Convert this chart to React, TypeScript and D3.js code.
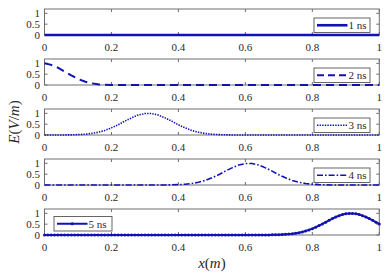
import React from "react";
import * as d3 from "d3";

const xTicks = [0, 0.2, 0.4, 0.6, 0.8, 1];
const xTickLabels = ["0", "0.2", "0.4", "0.6", "0.8", "1"];
const yTicks = [0, 0.5, 1];
const yTickLabels = ["0", "0.5", "1"];
const seriesNames = ["1 ns", "2 ns", "3 ns", "4 ns", "5 ns"];

// x sampling of the first four traces (step 0.02) and of the 5 ns trace (step 0.01)
const xCoarse = d3.range(51).map((i) => i / 50);
const xFine = d3.range(101).map((i) => i / 100);

const e1ns = [
  0, 0, 0, 0, 0, 0, 0, 0, 0, 0, 0, 0, 0, 0, 0, 0, 0, 0, 0, 0, 0, 0, 0, 0, 0, 0,
  0, 0, 0, 0, 0, 0, 0, 0, 0, 0, 0, 0, 0, 0, 0, 0, 0, 0, 0, 0, 0, 0, 0, 0, 0,
];
const e2ns = [
  1.0, 0.93, 0.8, 0.62, 0.44, 0.28, 0.16, 0.08, 0.03, 0.01, 0, 0, 0, 0, 0, 0, 0,
  0, 0, 0, 0, 0, 0, 0, 0, 0, 0, 0, 0, 0, 0, 0, 0, 0, 0, 0, 0, 0, 0, 0, 0, 0, 0,
  0, 0, 0, 0, 0, 0, 0, 0,
];
const e3ns = [
  0, 0, 0, 0.003, 0.008, 0.017, 0.035, 0.069, 0.125, 0.21, 0.33, 0.47, 0.64,
  0.79, 0.92, 0.99, 0.99, 0.92, 0.79, 0.64, 0.47, 0.33, 0.21, 0.125, 0.069,
  0.035, 0.017, 0.008, 0.003, 0, 0, 0, 0, 0, 0, 0, 0, 0, 0, 0, 0, 0, 0, 0, 0, 0,
  0, 0, 0, 0, 0,
];
const e4ns = [
  0, 0, 0, 0, 0, 0, 0, 0, 0, 0, 0, 0, 0, 0, 0, 0, 0, 0, 0.003, 0.008, 0.017,
  0.035, 0.069, 0.125, 0.21, 0.33, 0.47, 0.64, 0.79, 0.92, 0.99, 0.99, 0.92,
  0.79, 0.64, 0.47, 0.33, 0.21, 0.125, 0.069, 0.035, 0.017, 0.008, 0.003, 0, 0,
  0, 0, 0, 0, 0,
];
const e5ns = [
  0, 0, 0, 0, 0, 0, 0, 0, 0, 0, 0, 0, 0, 0, 0, 0, 0, 0, 0, 0, 0, 0, 0, 0, 0, 0,
  0, 0, 0, 0, 0, 0, 0, 0, 0, 0, 0, 0, 0, 0, 0, 0, 0, 0, 0, 0, 0, 0, 0, 0, 0, 0,
  0, 0, 0, 0, 0, 0, 0, 0, 0, 0, 0, 0, 0, 0, 0.002, 0.004, 0.006, 0.009, 0.014,
  0.021, 0.03, 0.042, 0.059, 0.081, 0.108, 0.143, 0.185, 0.236, 0.294, 0.361,
  0.434, 0.513, 0.594, 0.677, 0.756, 0.829, 0.893, 0.944, 0.979, 0.998, 0.998,
  0.979, 0.944, 0.893, 0.829, 0.756, 0.677, 0.594, 0.513,
];

const W = 389;
const H = 274;
const LEFT = 44.5;
const RIGHT = 379.3;
const PANEL_TOPS = [9, 59, 109, 159, 209];
const PANEL_H = 26;
const BLUE = "#1212b4";
const AXIS = "#6e6e6e";
const TEXT = "#2a2a2a";
const FONT = "Liberation Serif, Times New Roman, DejaVu Serif, serif";
const fontStyle = { fontFamily: FONT };

type Style = {
  width: number;
  dash?: string;
  markers?: boolean;
  legendDash?: string;
};

const styles: Style[] = [
  { width: 2.6 },
  { width: 2, dash: "8,5", legendDash: "7,4" },
  { width: 1.6, dash: "1.4,1.2" },
  { width: 1.6, dash: "6,2,1.6,2" },
  { width: 2, markers: true },
];

const panels = [
  { xs: xCoarse, ys: e1ns, legendLeft: false },
  { xs: xCoarse, ys: e2ns, legendLeft: false },
  { xs: xCoarse, ys: e3ns, legendLeft: false },
  { xs: xCoarse, ys: e4ns, legendLeft: false },
  { xs: xFine, ys: e5ns, legendLeft: true },
];

export default function App() {
  const x = d3.scaleLinear().domain([0, 1]).range([LEFT, RIGHT]);
  return (
    <svg
      width={W}
      height={H}
      style={{ position: "absolute", left: 0, top: 0, background: "#fff", fontFamily: FONT }}
    >
      <rect x={0} y={0} width={W} height={H} fill="#fff" />
      {panels.map((p, k) => {
        const top = PANEL_TOPS[k];
        const y = d3
          .scaleLinear()
          .domain([0, 1.2])
          .range([top + PANEL_H, top]);
        const st = styles[k];
        const line = d3
          .line<number>()
          .x((_, i) => x(p.xs[i]))
          .y((v) => y(v));
        const pts = p.ys;
        const lx0 = p.legendLeft ? 54 : 314;
        const lx1 = p.legendLeft ? 112 : 370;
        const ly0 = top + (p.legendLeft ? 7.5 : 9);
        const ly1 = ly0 + 14.5;
        const lmid = (ly0 + ly1) / 2;
        const sx0 = lx0 + 3;
        const sx1 = lx0 + 33.5;
        return (
          <g key={k}>
            <rect
              x={LEFT}
              y={top}
              width={RIGHT - LEFT}
              height={PANEL_H}
              fill="#fff"
              stroke={AXIS}
              strokeWidth={1}
            />
            {xTicks.map((t, i) => (
              <g key={"xt" + i}>
                <line x1={x(t)} x2={x(t)} y1={top + PANEL_H} y2={top + PANEL_H - 3} stroke={AXIS} />
                <line x1={x(t)} x2={x(t)} y1={top} y2={top + 3} stroke={AXIS} />
                <text
                  x={x(t)}
                  y={top + PANEL_H + 16}
                  textAnchor="middle"
                  fontSize={11}
                  fill={TEXT}
                  style={fontStyle}
                >
                  {xTickLabels[i]}
                </text>
              </g>
            ))}
            {yTicks.map((t, i) => (
              <g key={"yt" + i}>
                <line x1={LEFT} x2={LEFT + 3} y1={y(t)} y2={y(t)} stroke={AXIS} />
                <line x1={RIGHT} x2={RIGHT - 3} y1={y(t)} y2={y(t)} stroke={AXIS} />
                <text
                  x={40}
                  y={y(t) + 3.8}
                  textAnchor="end"
                  fontSize={11}
                  fill={TEXT}
                  style={fontStyle}
                >
                  {yTickLabels[i]}
                </text>
              </g>
            ))}
            <path
              d={line(pts) || ""}
              fill="none"
              stroke={BLUE}
              strokeWidth={st.width}
              strokeDasharray={st.dash}
            />
            {st.markers &&
              pts.map((v, i) => (
                <circle key={i} cx={x(p.xs[i])} cy={y(v)} r={1.5} fill={BLUE} />
              ))}
            <rect
              x={lx0}
              y={ly0}
              width={lx1 - lx0}
              height={ly1 - ly0}
              fill="#fff"
              stroke="#555"
              strokeWidth={0.9}
            />
            <line
              x1={sx0}
              x2={sx1}
              y1={lmid}
              y2={lmid}
              stroke={BLUE}
              strokeWidth={st.width}
              strokeDasharray={st.legendDash || st.dash}
            />
            {st.markers && <circle cx={(sx0 + sx1) / 2} cy={lmid} r={1.6} fill={BLUE} />}
            <text x={sx1 + 1} y={lmid + 4} fontSize={11} fill={TEXT} style={fontStyle}>
              {seriesNames[k]}
            </text>
          </g>
        );
      })}
      <text
        x={(LEFT + RIGHT) / 2}
        y={268}
        textAnchor="middle"
        fontSize={15}
        fill={TEXT}
        style={fontStyle}
      >
        <tspan fontStyle="italic">x</tspan>
        <tspan>(</tspan>
        <tspan fontStyle="italic">m</tspan>
        <tspan>)</tspan>
      </text>
      <text
        transform="translate(19,122) rotate(-90)"
        textAnchor="middle"
        fontSize={15}
        fill={TEXT}
        style={fontStyle}
      >
        <tspan fontStyle="italic">E</tspan>
        <tspan>(</tspan>
        <tspan fontStyle="italic">V</tspan>
        <tspan>/</tspan>
        <tspan fontStyle="italic">m</tspan>
        <tspan>)</tspan>
      </text>
    </svg>
  );
}
